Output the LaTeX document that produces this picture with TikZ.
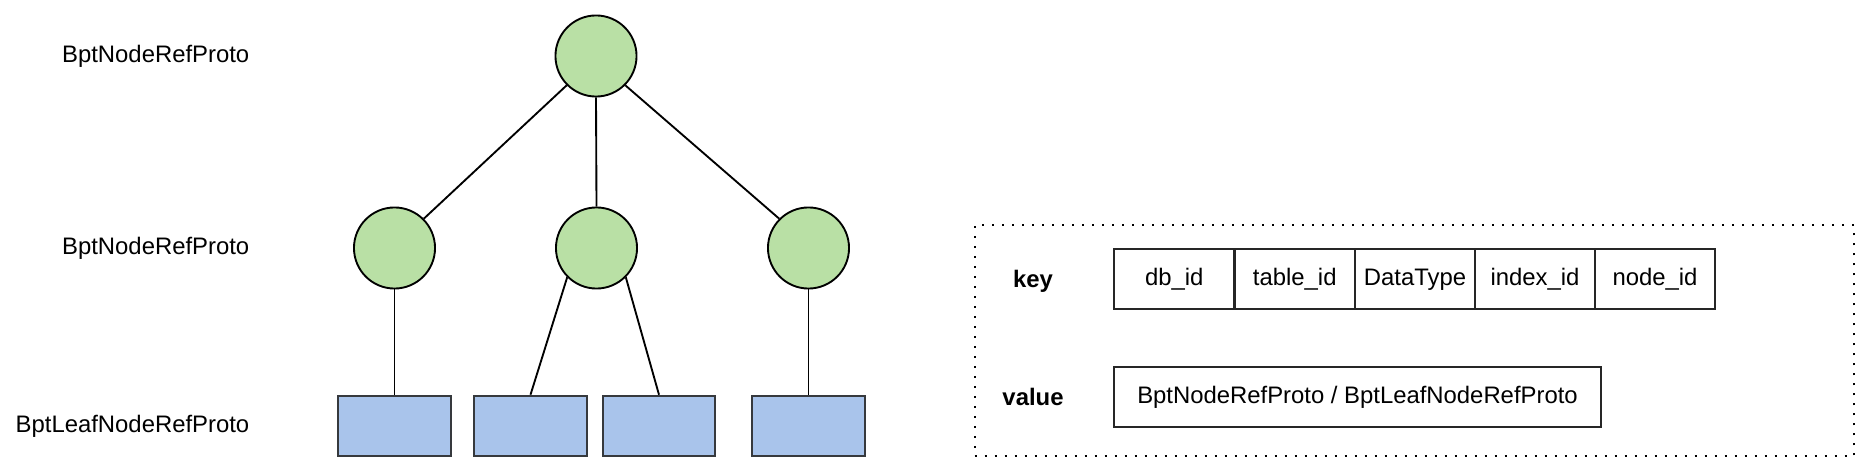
\documentclass[tikz,border=0pt]{standalone}
\usepackage{fontspec}
\setmainfont{Liberation Sans}
\definecolor{nodegreen}{HTML}{B9E0A5}
\definecolor{leafblue}{HTML}{A9C4EB}
\definecolor{leafstroke}{HTML}{36393D}
\begin{document}
\begin{tikzpicture}[x=0.75pt,y=-0.75pt,
  every node/.style={font=\fontsize{17.9}{21}\selectfont},
  treenode/.style={circle,draw=black,fill=nodegreen,line width=1.4pt,minimum size=60.8pt,inner sep=0pt},
  leafbox/.style={rectangle,draw=leafstroke,fill=leafblue,line width=1.5pt,minimum width=84.4pt,minimum height=45.4pt,inner sep=0pt},
  fieldbox/.style={rectangle,draw=black!85,line width=1.4pt,minimum width=90.15pt,minimum height=45pt,inner sep=0pt},
  edge/.style={draw=black,line width=1.4pt},
  lvl/.style={anchor=east,inner sep=0pt},
  kvlabel/.style={font=\fontsize{17.9}{21}\selectfont\bfseries,inner sep=0pt}
]
\useasboundingbox (0,0) rectangle (1871,474);

% labels
\node[lvl] (l1) at (249.5,56) {BptNodeRefProto};
\node[lvl] (l2) at (249.5,248) {BptNodeRefProto};
\node[lvl] (l3) at (249.5,426) {BptLeafNodeRefProto};

% tree
\node[treenode] (root) at (596,56) {};
\node[treenode] (c1) at (394.5,248) {};
\node[treenode] (c2) at (596.5,248) {};
\node[treenode] (c3) at (808.5,248) {};

\node[leafbox] (f1) at (394.5,426) {};
\node[leafbox] (f2) at (530.5,426) {};
\node[leafbox] (f3) at (659,426) {};
\node[leafbox] (f4) at (808.5,426) {};

\draw[edge] (root.-135) -- (c1.45);
\draw[edge] (root.south) -- (c2.north);
\draw[edge] (root.-45) -- (c3.135);
\draw[edge] (c1.south) -- (f1.north);
\draw[edge] (c2.-135) -- (f2.north);
\draw[edge] (c2.-45) -- (f3.north);
\draw[edge] (c3.south) -- (f4.north);

% key/value panel
\node[draw=black,line width=1.5pt,dash pattern=on 1.5pt off 6pt,rectangle,inner sep=0pt,
  minimum width=659.6pt,minimum height=172.9pt] (panel) at (1414.25,340.75) {};

\node[kvlabel] (key) at (1033,281) {key};
\node[kvlabel] (val) at (1033,397) {value};

\node[fieldbox] (k1) at (1174.25,279.3) {db\_id};
\node[fieldbox] (k2) at (1294.75,279.3) {table\_id};
\node[fieldbox] (k3) at (1415,279.3) {DataType};
\node[fieldbox] (k4) at (1535,279.3) {index\_id};
\node[fieldbox] (k5) at (1655,279.3) {node\_id};

\node[fieldbox,minimum width=365.25pt] (v1) at (1357.5,397) {BptNodeRefProto / BptLeafNodeRefProto};
\end{tikzpicture}
\end{document}
